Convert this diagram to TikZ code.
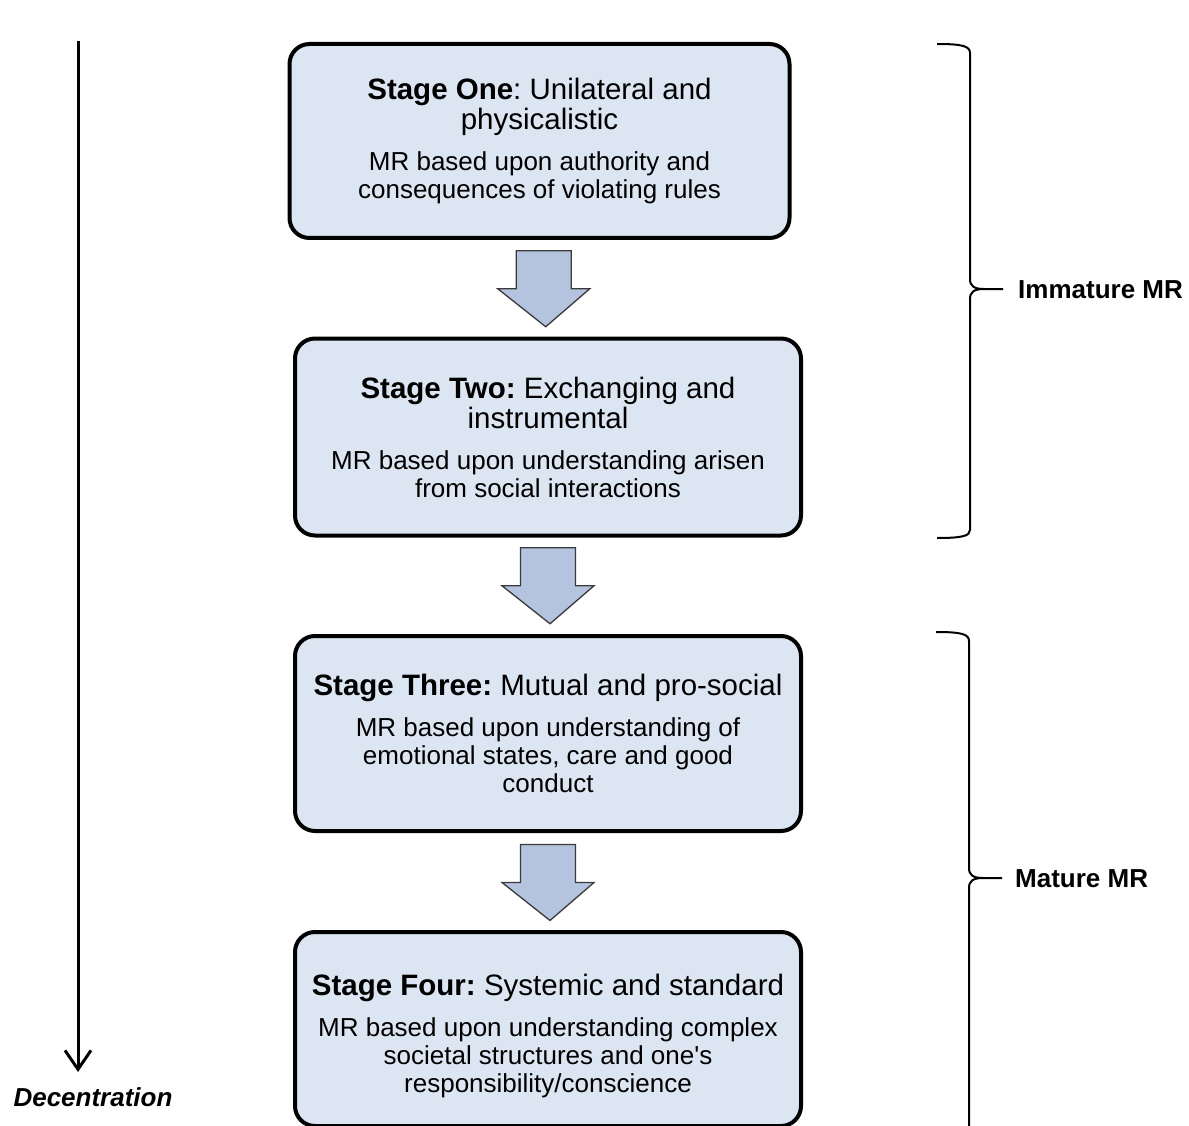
\documentclass[tikz,border=0pt]{standalone}
\usepackage{fontspec}
\setmainfont{Liberation Sans}
\newfontfamily\plainsans{Liberation Sans}
\usetikzlibrary{arrows.meta,calc}
\definecolor{boxfill}{HTML}{DCE6F2}
\definecolor{arrfill}{HTML}{B4C4DE}
\definecolor{arrline}{HTML}{3A3A3A}
\newcommand{\ttlfont}{\fontsize{29.5}{30}\selectfont\frenchspacing\spaceskip=0pt\relax\xspaceskip=0pt\relax}
\newcommand{\bdyfont}{\fontsize{26}{28}\selectfont\frenchspacing\spaceskip=0pt\relax\xspaceskip=0pt\relax}
\begin{document}
\begin{tikzpicture}[x=1pt,y=-1pt,
  stagebox/.style={draw=black, line width=4pt, rounded corners=20pt, fill=boxfill,
    align=flush center, text width=500pt, inner sep=0pt},
  blockarr/.style={draw=arrline, line width=1.3pt, fill=arrfill, line join=miter},
  downarr/.pic={\draw[blockarr] (-27.5,-38) -- (27.5,-38) -- (27.5,0) -- (46,0)
      -- (2,38) -- (-46,0) -- (-27.5,0) -- cycle;},
  bracelbl/.style={anchor=west, inner sep=0pt, font=\fontsize{26}{28}\selectfont\bfseries},
  bracepath/.style={draw=black, line width=2pt}
]
\clip (0,0) rectangle (1189,1126);
\fill[white] (0,0) rectangle (1189,1126);

% stage boxes
\node[stagebox, minimum width=497pt, minimum height=194pt] (s1) at (539.5,141)
  {\ttlfont\textbf{Stage One}: Unilateral and\\ physicalistic\par\vspace{13pt}
   \bdyfont MR based upon authority and\\ consequences of violating rules\par};
\node[stagebox, minimum width=506pt, minimum height=197pt] (s2) at (548,437)
  {\ttlfont\textbf{Stage Two:} Exchanging and\\ instrumental\par\vspace{13pt}
   \bdyfont MR based upon understanding arisen\\ from social interactions\par};
\node[stagebox, minimum width=506pt, minimum height=195pt] (s3) at (548,733.5)
  {\ttlfont\textbf{Stage Three:} Mutual and pro-social\par\vspace{13pt}
   \bdyfont MR based upon understanding of\\ emotional states, care and good\\ conduct\par};
\node[stagebox, minimum width=506pt, minimum height=194pt] (s4) at (548,1029)
  {\ttlfont\rule{0pt}{36pt}\textbf{Stage Four:} Systemic and standard\par\vspace{13pt}
   \bdyfont MR based upon understanding complex\\ societal structures and one{\plainsans'}s\\ responsibility/conscience\par};

% block arrows between stages
\pic at ($(s1.south)!0.5!(s2.north)+(0,0.5)$) {downarr};
\pic at ($(s2.south)!0.5!(s3.north)$) {downarr};
\pic at ($(s3.south)!0.5!(s4.north)+(0,1)$) {downarr};

% decentration axis
\coordinate (dtop) at (78,41);
\coordinate (dend) at (78,1072);
\node[inner sep=0pt, font=\fontsize{26}{28}\selectfont\bfseries\itshape] (dec) at (93,1097) {Decentration};
\draw[line width=3pt, -{Straight Barb[length=19pt,width=26pt,line width=3pt]}] (dtop) -- (dend);

% braces
\coordinate (b1tip) at (1003,289);
\draw[bracepath] (937,44) .. controls (962,44) and (970,46) .. (970,53) -- (970,279)
  .. controls (970,286) and (974,289) .. (984,289) -- (b1tip);
\draw[bracepath] (984,289) .. controls (974,289) and (970,292) .. (970,299) -- (970,530)
  .. controls (970,536) and (962,538) .. (937,538);
\node[bracelbl] (imm) at (1018,290) {Immature MR};

\coordinate (b2tip) at (1002,878);
\draw[bracepath] (936,632) .. controls (961,632) and (969,634) .. (969,641) -- (969,868)
  .. controls (969,875) and (973,878) .. (983,878) -- (b2tip);
\draw[bracepath] (983,878) .. controls (973,878) and (969,881) .. (969,888) -- (969,1140);
\node[bracelbl] (mat) at (1015,879) {Mature MR};
\end{tikzpicture}
\end{document}
